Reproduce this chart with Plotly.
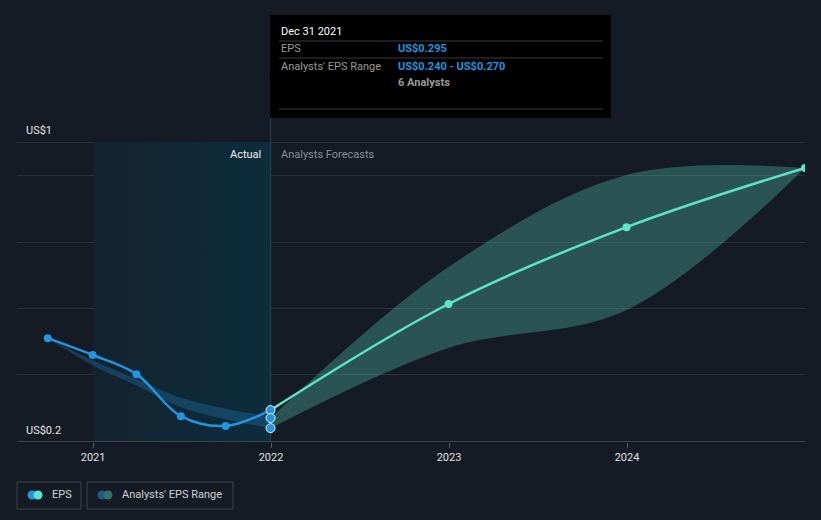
import plotly.graph_objects as go

# ---- data ----
eps_dates = ["2020-09-30", "2020-12-31", "2021-03-31", "2021-06-30", "2021-09-30", "2021-12-31"]
eps_values = [0.477, 0.432, 0.381, 0.269, 0.243, 0.285]

past_range_dates = ["2020-09-30", "2020-12-31", "2021-03-31", "2021-06-30", "2021-09-30", "2021-12-31"]
past_range_high = [0.477, 0.419, 0.368, 0.318, 0.289, 0.267]
past_range_low = [0.477, 0.405, 0.351, 0.293, 0.261, 0.237]

fc_dates = ["2021-12-31", "2022-12-31", "2023-12-31", "2024-12-31"]
fc_values = [0.285, 0.568, 0.773, 0.931]
fc_high = [0.264, 0.667, 0.912, 0.931]
fc_low = [0.237, 0.451, 0.552, 0.931]

marker_dates = ["2021-12-31", "2021-12-31", "2021-12-31"]
marker_values = [0.285, 0.264, 0.237]

tick_dates = ["2021-01-01", "2022-01-01", "2023-01-01", "2024-01-01"]
tick_labels = ["2021", "2022", "2023", "2024"]
grid_values = [0.2, 0.3787, 0.5573, 0.7333, 0.912, 1.0]

BG = "#151b24"
W, H = 821, 520
ML, MR, MT, MB = 17, 16, 15, 78
PW, PH = W - ML - MR, H - MT - MB
Y0, Y1 = 0.2, 0.2 + PH * 0.8 / 300


def px(x):
    return (x - ML) / PW


def py(y):
    return (H - MB - y) / PH


fig = go.Figure()

# Actual shaded region
fig.add_trace(go.Scatter(
    x=["2021-01-01", "2021-01-01", "2021-12-31", "2021-12-31", "2021-01-01"],
    y=[0.2, 1.0, 1.0, 0.2, 0.2],
    mode="lines", line=dict(width=0), fill="toself",
    fillgradient=dict(type="horizontal",
                      colorscale=[[0, "rgba(19,34,46,1)"], [1, "rgba(12,45,60,1)"]]),
    hoverinfo="skip", showlegend=False))

# vertical divider (present date)
fig.add_trace(go.Scatter(x=["2021-12-31", "2021-12-31"],
                         y=[Y0, Y0 + (Y1 - Y0) * py(118)], mode="lines",
                         line=dict(color="#24404e", width=1.2), hoverinfo="skip", showlegend=False))

# past analyst range band
fig.add_trace(go.Scatter(x=past_range_dates, y=past_range_high, mode="lines",
                         line=dict(width=0, shape="spline"), hoverinfo="skip", showlegend=False))
fig.add_trace(go.Scatter(x=past_range_dates, y=past_range_low, mode="lines",
                         line=dict(width=0, shape="spline"), fill="tonexty",
                         fillcolor="rgba(35,120,180,0.35)", hoverinfo="skip", showlegend=False))

# forecast range band
fig.add_trace(go.Scatter(x=fc_dates, y=fc_high, mode="lines",
                         line=dict(width=0, shape="spline"), hoverinfo="skip", showlegend=False))
fig.add_trace(go.Scatter(x=fc_dates, y=fc_low, mode="lines",
                         line=dict(width=0, shape="spline"), fill="tonexty",
                         fillcolor="rgba(72,165,150,0.42)", hoverinfo="skip", showlegend=False))

# forecast line
fig.add_trace(go.Scatter(x=fc_dates, y=fc_values, mode="lines+markers",
                         line=dict(color="#5de4c9", width=2.5, shape="spline"),
                         marker=dict(size=8, color="#5de4c9"),
                         hoverinfo="skip", showlegend=False))

# EPS line
fig.add_trace(go.Scatter(x=eps_dates, y=eps_values, mode="lines+markers",
                         line=dict(color="#2394df", width=2.5, shape="spline"),
                         marker=dict(size=8, color="#2394df"),
                         hoverinfo="skip", showlegend=False))

# stacked markers at last actual date
fig.add_trace(go.Scatter(x=marker_dates, y=marker_values, mode="markers",
                         marker=dict(size=9, color="#2394df", line=dict(color="#e8f2fa", width=1)),
                         hoverinfo="skip", showlegend=False))

shapes = []
# tooltip box
shapes.append(dict(type="rect", xref="paper", yref="paper", x0=px(270), x1=px(611),
                   y0=py(118), y1=py(15), fillcolor="#000000", line=dict(width=0), layer="above"))
for yy in (41, 58, 109):
    shapes.append(dict(type="line", xref="paper", yref="paper", x0=px(279), x1=px(603),
                       y0=py(yy), y1=py(yy), line=dict(color="#3a3a3a", width=1), layer="above"))

# legend boxes
shapes.append(dict(type="rect", xref="paper", yref="paper", x0=px(17), x1=px(81),
                   y0=py(509), y1=py(482), line=dict(color="#3e444e", width=1), fillcolor=BG))
shapes.append(dict(type="rect", xref="paper", yref="paper", x0=px(87), x1=px(233),
                   y0=py(509), y1=py(482), line=dict(color="#3e444e", width=1), fillcolor=BG))


def circle(cx, cy, r, color):
    return dict(type="circle", xref="paper", yref="paper", x0=px(cx - r), x1=px(cx + r),
                y0=py(cy + r), y1=py(cy - r), fillcolor=color, line=dict(width=0))


shapes += [circle(32, 495, 4.5, "#2394df"), circle(38, 495, 4.5, "#5de4c9"),
           circle(102, 495, 4.5, "#1f5a83"), circle(108, 495, 4.5, "#2f726c")]

# tick marks below the axis at labelled years
annotations = []


def txt(x, y, s, color, size=11, anchor="left", bold=False):
    annotations.append(dict(xref="paper", yref="paper", x=px(x), y=py(y), text=f"<b>{s}</b>" if bold else s,
                            showarrow=False, xanchor=anchor, yanchor="middle",
                            font=dict(color=color, size=size, family="Roboto")))


txt(24, 130, "US$1", "#e6e6e6")
txt(24, 430, "US$0.2", "#e6e6e6")
txt(263, 154, "Actual", "#f0f0f0", anchor="right")
txt(279, 154, "Analysts Forecasts", "#8a8f96")

txt(279, 31, "Dec 31 2021", "#ffffff", size=11)
txt(279, 49, "EPS", "#9a9a9a")
txt(396, 49, "US$0.295", "#2394df", bold=True)
txt(279, 66, "Analysts' EPS Range", "#9a9a9a")
txt(396, 66, "US$0.240 - US$0.270", "#2394df", bold=True)
txt(396, 83, "6 Analysts", "#9a9a9a", bold=True)

txt(50, 495, "EPS", "#cfd3d8")
txt(120, 495, "Analysts' EPS Range", "#cfd3d8")

fig.update_layout(
    width=W, height=H,
    margin=dict(l=ML, r=MR, t=MT, b=MB),
    paper_bgcolor=BG, plot_bgcolor=BG,
    shapes=shapes, annotations=annotations,
    showlegend=False,
    font=dict(family="Roboto", color="#d0d0d0"),
    xaxis=dict(type="date", range=["2020-07-29", "2024-12-31"],
               tickvals=tick_dates, ticktext=tick_labels,
               showgrid=False, zeroline=False,
               showline=False, ticks="outside", ticklen=5, tickcolor="#555a62",
               tickfont=dict(size=11, color="#e0e0e0", family="Roboto")),
    yaxis=dict(range=[Y0, Y1], tickvals=grid_values,
               showticklabels=False, showgrid=True, gridcolor="#2b313b", gridwidth=1,
               zeroline=False, showline=False, fixedrange=True),
)
fig.add_hline(y=0.2, line=dict(color="#4a4f58", width=1.5))

fig.write_html("out.html")
